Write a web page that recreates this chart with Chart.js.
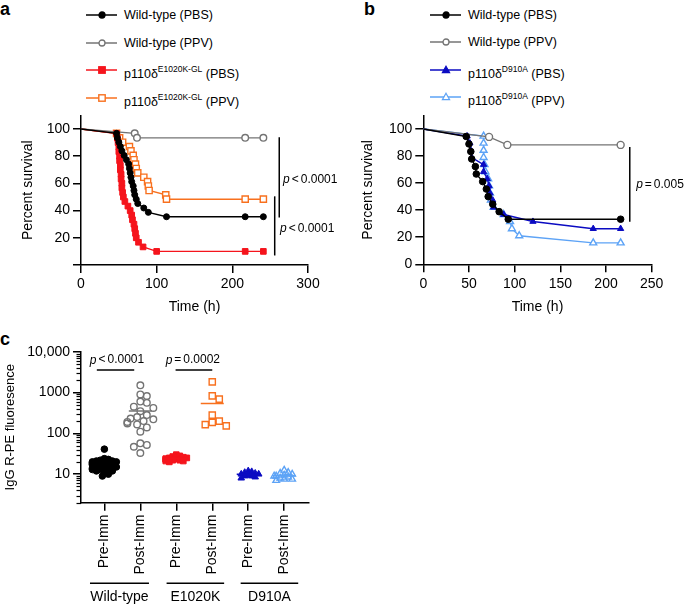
<!DOCTYPE html>
<html>
<head>
<meta charset="utf-8">
<script src="https://cdn.jsdelivr.net/npm/chart.js@4.4.1/dist/chart.umd.min.js"></script>
<style>
  body { margin: 0; width: 685px; height: 605px; position: relative; background: #fff; overflow: hidden;
         font-family: 'Liberation Sans', Arial, Helvetica, sans-serif; color: #000; }
  canvas { position: absolute; }
  .panel { position: absolute; font-weight: bold; font-size: 18px; line-height: 18px; }
  .leg { position: absolute; height: 14px; font-size: 12.5px; line-height: 14px; white-space: nowrap; }
  .leg svg { position: absolute; left: 0; top: 0; }
  .leg span { position: absolute; top: 0; }
  .leg sup { font-size: 8.5px; position: relative; top: -1px; }
</style>
</head>
<body>
<div class="panel" style="left:0px;top:0px">a</div>
<div class="panel" style="left:364px;top:0px">b</div>
<div class="panel" style="left:0px;top:330px">c</div>
<div id="legA"></div>
<div id="legB"></div>
<canvas id="survA" width="340" height="212" style="left:0px;top:104px"></canvas>
<canvas id="survB" width="345" height="212" style="left:340px;top:104px"></canvas>
<canvas id="igg" width="340" height="265" style="left:0px;top:340px"></canvas>
<script>
// ---- a: survival after challenge, E1020K ----
const xTicksA = [0, 100, 200, 300];
const yTicksA = [0, 20, 40, 60, 80, 100];
const yLabelsA = ['', '20', '40', '60', '80', '100'];
const timeA_wtPbs = [0, 47, 48, 50, 52, 54, 57, 60, 63, 64, 65, 66, 67, 69, 70, 71, 73, 75, 83, 89, 113, 217, 241];
const survA_wtPbs = [100, 96.8, 93.5, 90.3, 87.1, 83.9, 80.6, 77.4, 74.2, 71, 67.7, 64.5, 61.3, 58.1, 54.8, 51.6, 48.4, 45.2, 41.9, 38.7, 35.5, 35.5, 35.5];
const timeA_wtPpv = [0, 71, 74, 217, 241];
const survA_wtPpv = [100, 96.8, 93.5, 93.5, 93.5];
const timeA_ekPbs = [0, 47, 48, 49, 50, 50, 51, 51, 52, 52, 53, 53, 54, 54, 55, 56, 58, 62, 65, 67, 68, 70, 71, 72, 73, 76, 82, 100, 217, 241];
const survA_ekPbs = [100, 96.7, 93.3, 90, 86.7, 83.3, 80, 76.7, 73.3, 70, 66.7, 63.3, 60, 56.7, 53.3, 50, 46.7, 43.3, 40, 36.7, 33.3, 30, 26.7, 23.3, 20, 16.7, 13.3, 10, 10, 10];
const timeA_ekPpv = [0, 47, 51, 55, 64, 66, 69, 70, 72, 73, 75, 83, 88, 89, 90, 112, 113, 217, 241];
const survA_ekPpv = [100, 96.8, 93.5, 90.3, 87.1, 83.9, 80.6, 77.4, 74.2, 71, 67.7, 64.5, 61.3, 58.1, 54.8, 51.6, 48.4, 48.4, 48.4];
const legendA = ['Wild-type (PBS)', 'Wild-type (PPV)', 'p110δ<sup>E1020K-GL</sup> (PBS)', 'p110δ<sup>E1020K-GL</sup> (PPV)'];

// ---- b: survival after challenge, D910A ----
const xTicksB = [0, 50, 100, 150, 200, 250];
const yTicksB = [0, 20, 40, 60, 80, 100];
const yLabelsB = ['0', '20', '40', '60', '80', '100'];
const timeB_wtPbs = [0, 47, 50, 52, 53, 57, 58, 65, 69, 71, 76, 83, 93, 216];
const survB_wtPbs = [100, 94.4, 88.9, 83.3, 77.8, 72.2, 66.7, 61.1, 55.6, 50, 44.4, 38.9, 33.3, 33.3];
const timeB_wtPpv = [0, 72, 92, 216];
const survB_wtPpv = [100, 94.1, 88.2, 88.2];
const timeB_daPbs = [0, 48, 51, 52, 53, 66, 66, 70, 72, 73, 76, 77, 88, 120, 186, 216];
const survB_daPbs = [100, 94.7, 89.5, 84.2, 78.9, 73.7, 68.4, 63.2, 57.9, 52.6, 47.4, 42.1, 36.8, 31.6, 26.3, 26.3];
const timeB_daPpv = [0, 66, 66, 66, 66, 67, 68, 71, 72, 73, 74, 77, 88, 95, 97, 105, 186, 216];
const survB_daPpv = [100, 94.7, 89.5, 84.2, 78.9, 73.7, 68.4, 63.2, 57.9, 52.6, 47.4, 42.1, 36.8, 31.6, 26.3, 21.1, 15.8, 15.8];
const legendB = ['Wild-type (PBS)', 'Wild-type (PPV)', 'p110δ<sup>D910A</sup> (PBS)', 'p110δ<sup>D910A</sup> (PPV)'];

// ---- c: IgG R-PE fluorescence ----
const cats = ['Pre-Imm', 'Post-Imm', 'Pre-Imm', 'Post-Imm', 'Pre-Imm', 'Post-Imm'];
const groups = ['Wild-type', 'E1020K', 'D910A'];
const yTicksC = [10, 100, 1000, 10000];
const yLabelsC = ['10', '100', '1000', '10,000'];
const wtPre = [41, 24, 23, 22, 21, 21, 20, 20, 19, 19, 18, 18, 17, 17, 16, 16, 15, 15, 14, 14, 13, 13, 12, 12, 11, 10, 9];
const wtPost = [1500, 900, 820, 600, 560, 450, 420, 350, 280, 250, 230, 220, 200, 190, 175, 165, 140, 110, 57, 52, 47, 33];
const ekPre = [30, 28, 27, 26, 25, 25, 24, 24, 23, 23, 22, 22, 21, 21, 20];
const ekPost = [1820, 830, 690, 280, 199, 185, 164, 152];
const daPre = [12, 11.5, 11, 10.5, 10, 10, 9.5, 9, 9, 8.5, 8];
const daPost = [12.5, 11, 10.5, 10, 9.5, 9, 9, 8.5, 8, 7.5, 7.5, 7];

const FONT = "'Liberation Sans', Arial, Helvetica, sans-serif";
Chart.defaults.font.family = FONT;
Chart.defaults.color = '#000';
Chart.defaults.animation = false;

const BLACK = '#000000', GREY = '#747474', RED = '#f5141c', ORANGE = '#f8701e', NAVY = '#0b0bc2', SKY = '#5da3f6';

function survSet(t, s, color, style, filled, r) {
  return {
    data: t.map((x, i) => ({ x: x, y: s[i] })),
    showLine: true,
    borderColor: color,
    borderWidth: 1.4,
    pointStyle: style,
    pointRadius: ctx => ctx.dataIndex === 0 ? 0 : r,
    pointHoverRadius: ctx => ctx.dataIndex === 0 ? 0 : r,
    pointBackgroundColor: filled ? color : '#fff',
    pointBorderColor: color,
    pointBorderWidth: filled ? 1 : 1.4,
  };
}

function axis(ticks, labels, width, height, title, titlePad, extra) {
  const a = {
    type: 'linear',
    border: { display: true, color: '#000', width: 1.5 },
    grid: { display: true, drawOnChartArea: false, drawTicks: true, tickLength: 8, color: '#000', lineWidth: 1.5 },
    ticks: { color: '#000', font: { size: 14 }, padding: 3, autoSkip: false, callback: (v, i) => labels[i] },
    afterBuildTicks: s => { s.ticks = ticks.map(v => ({ value: v })); },
    title: { display: true, text: title, color: '#000', font: { size: 14 }, padding: titlePad },
  };
  if (width) a.afterFit = s => { s.width = width; };
  if (height) a.afterFit = s => { s.height = height; };
  return Object.assign(a, extra);
}

function pText(ctx, x, y, rel, num, align) {
  ctx.save();
  ctx.fillStyle = '#000';
  ctx.textBaseline = 'middle';
  ctx.textAlign = 'left';
  ctx.font = 'italic 12px ' + FONT;
  const wp = ctx.measureText('p').width;
  ctx.font = '12px ' + FONT;
  const wr = ctx.measureText(rel).width;
  const wn = ctx.measureText(num).width;
  const gap = 2;
  const total = wp + gap + wr + gap + wn;
  const x0 = align === 'center' ? x - total / 2 : x;
  ctx.font = 'italic 12px ' + FONT;
  ctx.fillText('p', x0, y);
  ctx.font = '12px ' + FONT;
  ctx.fillText(rel, x0 + wp + gap, y);
  ctx.fillText(num, x0 + wp + gap + wr + gap, y);
  ctx.restore();
}

function vline(ctx, x, y1, y2) {
  ctx.save();
  ctx.strokeStyle = '#000';
  ctx.lineWidth = 1.5;
  ctx.beginPath();
  ctx.moveTo(x, y1);
  ctx.lineTo(x, y2);
  ctx.stroke();
  ctx.restore();
}

function hline(ctx, x1, x2, y) {
  ctx.save();
  ctx.strokeStyle = '#000';
  ctx.lineWidth = 1.5;
  ctx.beginPath();
  ctx.moveTo(x1, y);
  ctx.lineTo(x2, y);
  ctx.stroke();
  ctx.restore();
}

// legend rows, drawn as html so the superscripts stay text
function buildLegend(host, left, top, labels, colors, styles, fills) {
  labels.forEach((lab, i) => {
    const row = document.createElement('div');
    row.className = 'leg';
    row.style.left = left + 'px';
    row.style.top = (top + i * 27.6) + 'px';
    const c = colors[i];
    const f = fills[i] ? c : '#fff';
    let mk = '';
    if (styles[i] === 'circle') mk = `<circle cx="16" cy="7" r="3" fill="${f}" stroke="${c}" stroke-width="1.3"/>`;
    if (styles[i] === 'rect') mk = `<rect x="12.8" y="3.8" width="6.4" height="6.4" fill="${f}" stroke="${c}" stroke-width="1.4"/>`;
    if (styles[i] === 'triangle') mk = `<polygon points="16,3.2 19.6,9.6 12.4,9.6" fill="${f}" stroke="${c}" stroke-width="1.2"/>`;
    row.innerHTML = `<svg width="32" height="14"><line x1="0" y1="7" x2="31" y2="7" stroke="${c}" stroke-width="1.5"/>${mk}</svg>` +
      `<span style="left:38px">${lab}</span>`;
    host.appendChild(row);
  });
}

buildLegend(document.getElementById('legA'), 86, 8, legendA, [BLACK, GREY, RED, ORANGE], ['circle', 'circle', 'rect', 'rect'], [true, false, true, false]);
buildLegend(document.getElementById('legB'), 430, 7.5, legendB, [BLACK, GREY, NAVY, SKY], ['circle', 'circle', 'triangle', 'triangle'], [true, false, true, false]);

// ---------- panel a ----------
new Chart(document.getElementById('survA'), {
  type: 'scatter',
  data: {
    datasets: [
      survSet(timeA_wtPbs, survA_wtPbs, BLACK, 'circle', true, 3),
      survSet(timeA_wtPpv, survA_wtPpv, GREY, 'circle', false, 3.3),
      survSet(timeA_ekPbs, survA_ekPbs, RED, 'rect', true, 4),
      survSet(timeA_ekPpv, survA_ekPpv, ORANGE, 'rect', false, 4.4),
    ]
  },
  options: {
    responsive: false,
    layout: { padding: { top: 8.7, right: 32, left: 0, bottom: 0 } },
    plugins: { legend: { display: false }, tooltip: { enabled: false } },
    scales: {
      x: axis(xTicksA, xTicksA.map(String), 0, 51, 'Time (h)', { top: 0, bottom: 0 }, { min: 0, max: 300 }),
      y: axis(yTicksA, yLabelsA, 81, 0, 'Percent survival', { top: 19.6, bottom: 0 }, { min: 0, max: 110 }),
    }
  },
  plugins: [{
    id: 'pvalsA',
    afterDraw(chart) {
      const { ctx, scales: { x, y } } = chart;
      vline(ctx, x.getPixelForValue(262), y.getPixelForValue(94), y.getPixelForValue(35));
      pText(ctx, x.getPixelForValue(267), y.getPixelForValue(63), '<', '0.0001', 'left');
      vline(ctx, x.getPixelForValue(256), y.getPixelForValue(50.5), y.getPixelForValue(7));
      pText(ctx, x.getPixelForValue(263), y.getPixelForValue(27), '<', '0.0001', 'left');
    }
  }]
});

// ---------- panel b ----------
new Chart(document.getElementById('survB'), {
  type: 'scatter',
  data: {
    datasets: [
      survSet(timeB_wtPbs, survB_wtPbs, BLACK, 'circle', true, 3.3),
      survSet(timeB_wtPpv, survB_wtPpv, GREY, 'circle', false, 3.5),
      survSet(timeB_daPbs, survB_daPbs, NAVY, 'triangle', true, 3.6),
      survSet(timeB_daPpv, survB_daPpv, SKY, 'triangle', false, 4),
    ]
  },
  options: {
    responsive: false,
    layout: { padding: { top: 8.7, right: 33.3, left: 0, bottom: 0 } },
    plugins: { legend: { display: false }, tooltip: { enabled: false } },
    scales: {
      x: axis(xTicksB, xTicksB.map(String), 0, 51.7, 'Time (h)', { top: 0, bottom: 0 }, { min: 0, max: 250 }),
      y: axis(yTicksB, yLabelsB, 83.3, 0, 'Percent survival', { top: 19.6, bottom: 0 }, { min: 0, max: 110 }),
    }
  },
  plugins: [{
    id: 'pvalsB',
    afterDraw(chart) {
      const { ctx, scales: { x, y } } = chart;
      vline(ctx, x.getPixelForValue(226), y.getPixelForValue(86.7), y.getPixelForValue(31.4));
      pText(ctx, x.getPixelForValue(233), y.getPixelForValue(59), '=', '0.005', 'left');
    }
  }]
});

// ---------- panel c ----------
// beeswarm: points may overlap down to `d` px, spread is capped
const PX_DEC = 40.8, PX_CAT = 36;
function swarm(vals, cat, d, cap) {
  const placed = [];
  return vals.slice().sort((a, b) => b - a).map(v => {
    const py = Math.log10(v) * PX_DEC;
    let off = 0;
    for (let k = 0; k < 60; k++) {
      const o = (k % 2 ? 1 : -1) * Math.ceil(k / 2) * d * 0.5;
      if (Math.abs(o) > cap) break;
      off = o;
      if (placed.every(p => Math.hypot(p.x - off, p.y - py) >= d)) break;
    }
    placed.push({ x: off, y: py });
    return { x: cat + off / PX_CAT, y: v };
  });
}
function mean(a) { return a.reduce((s, v) => s + v, 0) / a.length; }
function meanLine(vals, cat, color) {
  const m = mean(vals);
  return { data: [{ x: cat - 0.32, y: m }, { x: cat + 0.32, y: m }], showLine: true, borderColor: color, borderWidth: 1.5, pointRadius: 0, order: 0 };
}
function dots(vals, cat, color, style, filled, r, d, cap) {
  return { data: swarm(vals, cat, d, cap), pointStyle: style, pointRadius: r, pointHoverRadius: r,
    pointBackgroundColor: filled ? color : 'rgba(255,255,255,0)', pointBorderColor: color,
    pointBorderWidth: filled ? 1 : 1.4, showLine: false, order: 1 };
}

new Chart(document.getElementById('igg'), {
  type: 'scatter',
  data: {
    datasets: [
      meanLine(wtPre, 0, BLACK), meanLine(wtPost, 1, GREY),
      meanLine(ekPre, 2, RED), meanLine(ekPost, 3, ORANGE),
      meanLine(daPre, 4, NAVY), meanLine(daPost, 5, SKY),
      dots(wtPre, 0, BLACK, 'circle', true, 3.3, 4, 12),
      dots(wtPost, 1, GREY, 'circle', false, 3.3, 6.5, 14),
      dots(ekPre, 2, RED, 'rect', true, 4, 3.5, 11),
      dots(ekPost, 3, ORANGE, 'rect', false, 4.4, 7, 14),
      dots(daPre, 4, NAVY, 'triangle', true, 3.8, 3.5, 11),
      dots(daPost, 5, SKY, 'triangle', false, 3.8, 4, 11),
    ]
  },
  options: {
    responsive: false,
    layout: { padding: { top: 11.7, right: 31, left: 0, bottom: 0 } },
    plugins: { legend: { display: false }, tooltip: { enabled: false } },
    scales: {
      x: axis([0, 1, 2, 3, 4, 5], cats, 0, 102.3, '', { top: 0, bottom: 0 },
        { min: -0.65, max: 5.69 }),
      y: axis(yTicksC, yLabelsC, 81, 0, 'IgG R-PE fluoresence', { top: 3, bottom: 0 },
        { type: 'logarithmic', min: 2, max: 10000 }),
    }
  },
  plugins: [{
    id: 'extrasC',
    beforeInit(chart) {
      const xs = chart.options.scales.x;
      xs.title.display = false;
      xs.ticks.minRotation = 90;
      xs.ticks.maxRotation = 90;
      xs.ticks.padding = 4;
      chart.options.scales.y.title.font = { size: 13 };
    },
    afterDraw(chart) {
      const { ctx, scales: { x, y } } = chart;
      // minor log ticks
      ctx.save();
      ctx.strokeStyle = '#000';
      ctx.lineWidth = 1.2;
      const ax = chart.chartArea.left;
      [1, 10, 100, 1000].forEach(d => {
        for (let m = 2; m <= 9; m++) {
          const v = m * d;
          if (v < 2 || v > 10000) continue;
          const py = Math.round(y.getPixelForValue(v)) + 0.5;
          ctx.beginPath();
          ctx.moveTo(ax - 4.5, py);
          ctx.lineTo(ax, py);
          ctx.stroke();
        }
      });
      ctx.restore();
      // p-values
      hline(ctx, x.getPixelForValue(-0.21), x.getPixelForValue(0.83), y.getPixelForValue(3550));
      pText(ctx, x.getPixelForValue(0.35), y.getPixelForValue(6200), '<', '0.0001', 'center');
      hline(ctx, x.getPixelForValue(1.98), x.getPixelForValue(3.0), y.getPixelForValue(3550));
      pText(ctx, x.getPixelForValue(2.46), y.getPixelForValue(6200), '=', '0.0002', 'center');
      // group labels
      const gs = [[-0.4, 1.24], [1.73, 3.33], [3.79, 5.39]];
      ctx.save();
      ctx.fillStyle = '#000';
      ctx.font = '14px ' + FONT;
      ctx.textAlign = 'center';
      ctx.textBaseline = 'middle';
      groups.forEach((g, i) => {
        const x1 = x.getPixelForValue(gs[i][0]), x2 = x.getPixelForValue(gs[i][1]);
        hline(ctx, x1, x2, 243.3);
        ctx.fillText(g, (x1 + x2) / 2, 257);
      });
      ctx.restore();
    }
  }]
});
</script>
</body>
</html>
